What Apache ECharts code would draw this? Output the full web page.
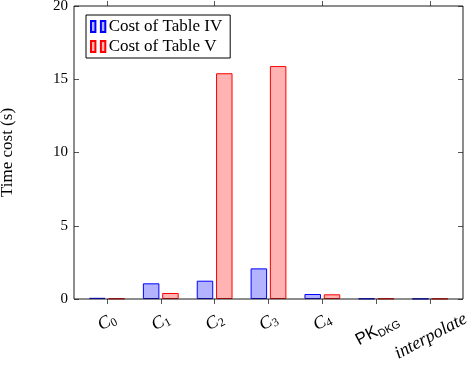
<!DOCTYPE html>
<html>
<head>
<meta charset="utf-8">
<script src="https://cdn.jsdelivr.net/npm/echarts@6/dist/echarts.min.js"></script>
<style>html,body{margin:0;padding:0;background:#fff;}#c{width:471px;height:370px;}</style>
</head>
<body>
<div id="c"></div>
<script>
const categories = ['C0', 'C1', 'C2', 'C3', 'C4', 'PK_DKG', 'interpolate'];
const costTableIV = [0.08, 1.07, 1.25, 2.09, 0.34, 0.03, 0.02];
const costTableV = [0.03, 0.41, 15.41, 15.9, 0.32, 0.03, 0.02];
const seriesNames = ['Cost of Table IV', 'Cost of Table V'];
const yTicks = [0, 5, 10, 15, 20];
const yTitle = 'Time cost (s)';

const SERIF = '"Liberation Serif", "DejaVu Serif", serif';
const SANS = '"Liberation Sans", "DejaVu Sans", sans-serif';

// long rotated labels sit lower (pgfplots anchors the north of the rotated box):
// an invisible first line pushes them down, an invisible spacer keeps them centred on the tick
function fmt(v) {
  if (v === 'PK_DKG') return '{gapP| }\n{pk|PK}{pks|DKG}{spP| }';
  if (v === 'interpolate') return '{gapI| }\n{it|interpolate}{spI| }';
  return '{c|' + v.charAt(0) + '}{s|' + v.slice(1) + '}';
}

const chart = echarts.init(document.getElementById('c'), null, { renderer: 'canvas' });
chart.setOption({
  animation: false,
  backgroundColor: '#fff',
  textStyle: { fontFamily: SERIF },
  grid: [
    { left: 74, right: 8, top: 6, bottom: 71, show: true, borderColor: '#1a1a1a', borderWidth: 1, backgroundColor: 'transparent', z: 5, outerBoundsMode: 'none', containLabel: false },
    { left: 80, right: 14, top: 6, bottom: 71, outerBoundsMode: 'none', containLabel: false }
  ],
  legend: {
    data: seriesNames,
    orient: 'vertical',
    left: 86, top: 15,
    backgroundColor: '#fff',
    borderColor: '#000', borderWidth: 1,
    padding: [3, 8, 3, 4],
    itemGap: 3,
    itemWidth: 15, itemHeight: 11,
    icon: 'path://M0,0H4V10H0Z M9,0H13V10H9Z',
    textStyle: { fontFamily: SERIF, fontSize: 17, color: '#000', padding: [0, 0, 0, -2] }
  },
  xAxis: [
    { gridIndex: 0, type: 'value', min: 0, max: 1, show: false },
    {
      gridIndex: 1, type: 'category', position: 'bottom', data: categories,
      axisLine: { show: false },
      axisTick: { show: true, alignWithLabel: true, inside: false, length: 5, lineStyle: { color: '#555' } },
      axisLabel: {
        interval: 0, rotate: 28, margin: 23, align: 'center', verticalAlign: 'middle',
        formatter: fmt, color: '#000',
        rich: {
          c: { fontFamily: SERIF, fontStyle: 'italic', fontSize: 18, color: '#000', verticalAlign: 'middle', lineHeight: 20 },
          s: { fontFamily: SERIF, fontSize: 12, color: '#000', verticalAlign: 'bottom', lineHeight: 14 },
          pk: { fontFamily: SANS, fontSize: 17, color: '#000', verticalAlign: 'middle', lineHeight: 20 },
          pks: { fontFamily: SANS, fontSize: 11, color: '#000', verticalAlign: 'bottom', lineHeight: 14 },
          it: { fontFamily: SERIF, fontStyle: 'italic', fontSize: 18, color: '#000', lineHeight: 20 },
          gapP: { fontSize: 1, lineHeight: 16, color: 'transparent' },
          gapI: { fontSize: 1, lineHeight: 26, color: 'transparent' },
          spP: { fontSize: 1, width: 6, color: 'transparent' },
          spI: { fontSize: 1, width: 12, color: 'transparent' }
        }
      }
    },
    {
      gridIndex: 1, type: 'category', position: 'top', data: categories,
      axisLine: { show: false },
      axisTick: { show: true, alignWithLabel: true, inside: false, length: 5, lineStyle: { color: '#555' } },
      axisLabel: { show: false }
    }
  ],
  yAxis: [
    {
      gridIndex: 0, type: 'value', position: 'left', min: yTicks[0], max: yTicks[yTicks.length - 1], interval: yTicks[1] - yTicks[0],
      axisLine: { show: false },
      axisTick: { show: true, inside: true, length: 5, lineStyle: { color: '#555' } },
      splitLine: { show: false },
      axisLabel: { margin: 6, color: '#000', fontFamily: SERIF, fontSize: 15 },
      name: yTitle, nameLocation: 'middle', nameRotate: 90, nameGap: 58,
      nameTextStyle: { fontFamily: SERIF, fontSize: 17, color: '#000' }
    },
    {
      gridIndex: 0, type: 'value', position: 'right', min: yTicks[0], max: yTicks[yTicks.length - 1], interval: yTicks[1] - yTicks[0],
      axisLine: { show: false },
      axisTick: { show: true, inside: true, length: 5, lineStyle: { color: '#555' } },
      splitLine: { show: false },
      axisLabel: { show: false }
    },
    {
      gridIndex: 1, type: 'value', min: yTicks[0], max: yTicks[yTicks.length - 1], show: false, splitLine: { show: false }
    }
  ],
  series: [
    {
      name: seriesNames[0], type: 'bar', xAxisIndex: 1, yAxisIndex: 2, data: costTableIV,
      barWidth: 16.5, barGap: '17%',
      itemStyle: { color: '#b3b3ff', borderColor: '#0000ff', borderWidth: 1 }
    },
    {
      name: seriesNames[1], type: 'bar', xAxisIndex: 1, yAxisIndex: 2, data: costTableV,
      barWidth: 16.5, barGap: '17%',
      itemStyle: { color: '#ffb3b3', borderColor: '#ff0000', borderWidth: 1 }
    }
  ]
});
</script>
</body>
</html>
